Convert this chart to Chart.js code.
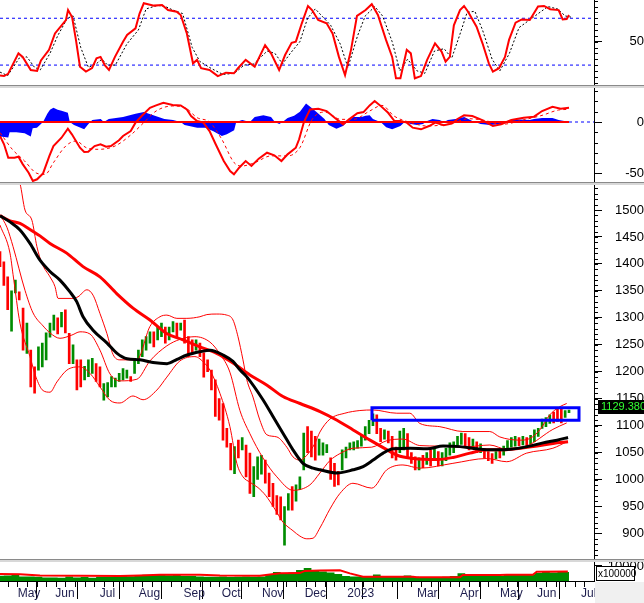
<!DOCTYPE html>
<html>
<head>
<meta charset="utf-8">
<script src="https://cdn.jsdelivr.net/npm/chart.js@4.4.0/dist/chart.umd.min.js"></script>
<style>
  html, body { margin: 0; padding: 0; background: #fff; }
  canvas { display: block; }
</style>
</head>
<body>
<canvas id="chart" width="644" height="603"></canvas>
<script>
const FONT = '"Liberation Sans", Arial, sans-serif';
const X_MAX = 309; // trading days visible on the time axis

// time axis: trading-day index of each month start
const monthDays = [9.2, 28.8, 51.9, 72.2, 95.5, 115.4, 136.3, 158.5, 180.7, 196.3, 216.9, 239.3, 260.1, 279.4, 302.3];
const monthLabels = ["May", "Jun", "Jul", "Aug", "Sep", "Oct", "Nov", "Dec", "2023", "", "Mar", "Apr", "May", "Jun", "Jul"];

// candles, one every 2 trading days (open / close of the visible stick)
const candleOpen = [1423,1404,1376,1275,1346,1348,1318,1234,1240,1209,
  1203,1209,1222,1264,1277,1300,1283,1315,1271,1215,
  1222,1222,1185,1191,1197,1215,1209,1147,1153,1172,
  1172,1182,1185,1188,1191,1197,1215,1228,1240,1253,
  1274,1259,1265,1283,1259,1274,1290,1277,1296,1265,
  1259,1240,1253,1235,1222,1203,1185,1150,1141,1095,
  1067,1011,1073,1055,1064,1049,968,1000,1010,1036,
  1012,993,970,968,878,943,987,960,981,1018,
  1098,1090,1080,1045,1045,1050,1040,1030,1015,1018,
  1040,1055,1055,1058,1062,1073,1085,1100,1120,1095,
  1075,1090,1080,1060,1050,1055,1085,1050,1042,1018,
  1045,1028,1055,1035,1052,1025,1035,1045,1050,1060,
  1065,1085,1078,1058,1070,1050,1058,1052,1048,1038,
  1058,1045,1055,1060,1062,1078,1064,1078,1066,1070,
  1080,1095,1098,1104,1125,1130,1130,1115,1124];
const candleClose = [1395,1360,1315,1350,1370,1333,1240,1290,1172,1160,
  1246,1253,1272,1290,1305,1270,1310,1272,1215,1250,
  1166,1172,1210,1222,1225,1182,1172,1178,1180,1191,
  1188,1197,1206,1203,1182,1222,1240,1259,1265,1274,
  1246,1283,1290,1253,1283,1293,1265,1290,1253,1228,
  1234,1259,1228,1190,1200,1166,1117,1110,1073,1060,
  1018,1061,1040,1078,1005,974,1024,1042,1045,993,
  968,950,935,925,950,974,943,990,1005,1086,
  1050,1042,1036,1075,1068,1065,1000,987,990,1055,
  1060,1068,1070,1072,1080,1098,1110,1122,1085,1070,
  1092,1068,1040,1036,1090,1095,1040,1030,1018,1040,
  1022,1050,1025,1060,1025,1050,1058,1068,1070,1080,
  1086,1060,1055,1075,1050,1066,1040,1035,1030,1052,
  1040,1062,1072,1078,1080,1063,1080,1062,1082,1092,
  1095,1112,1115,1120,1105,1108,1105,1128,1129];
const lastClose = 1129.38;

// moving averages [day, value]
const maLong = [[0,1489.5],[5.2,1480],[10.4,1475],[15.6,1464],[20.8,1452],[26,1438],[34.7,1420],[43.2,1395],[52,1376],[60.7,1345],[69.2,1318],[78,1296],[86.7,1271],[95.2,1259],[104,1246],[112.7,1234],[121.2,1216],[130,1194],[138.9,1175],[147.2,1154],[156.1,1141],[166.5,1126],[175.3,1110],[183.7,1092],[192.5,1073],[201.4,1055],[206.6,1045],[214.9,1039],[227.4,1037],[235.7,1041],[244.5,1049],[253.4,1055],[261.7,1055],[270.6,1058],[279.4,1062],[287.7,1067],[295.5,1070]];
const maMid = [[0,1489.5],[5.2,1478],[10.4,1463],[15.6,1438],[20.8,1407],[26,1386],[31.2,1370],[36.4,1348],[39.9,1330],[43.2,1302],[48.4,1277],[55.7,1253],[60.9,1234],[66.1,1224],[72.8,1222],[79.6,1217],[86.9,1215],[92.1,1223],[97.3,1231],[104,1237],[109.3,1240],[116,1231],[121.2,1219],[124.9,1203],[128.5,1190],[136.8,1148],[142,1117],[147.2,1086],[152.4,1055],[157.6,1030],[162.9,1021],[166.5,1018],[175.3,1012],[183.7,1018],[188.9,1024],[194.1,1036],[199.3,1049],[204.5,1057],[213.3,1058],[222.2,1057],[230.5,1062],[239.3,1061],[248.2,1057],[256.5,1055],[265.4,1056],[274.2,1061],[282.5,1068],[289.8,1073],[295.5,1078]];

// bollinger bands [day, value]
const bbUpper = [[0,1565],[5.2,1580],[10.4,1549],[13,1500],[16.6,1481],[19.2,1432],[21.8,1401],[26,1376],[28.6,1358],[30.2,1336],[37.4,1336],[40.6,1339],[45.2,1352],[48.4,1342],[52,1308],[55.6,1271],[58.8,1232],[62.4,1222],[71.2,1222],[78,1284],[83.2,1302],[86.8,1305],[92,1299],[97.2,1299],[104,1302],[107.6,1306],[112.8,1307],[118,1305],[121.2,1296],[123.8,1265],[126.4,1222],[128.4,1185],[131.6,1153],[135.2,1110],[138.8,1083],[144,1079],[149.2,1060],[152.4,1042],[156,1036],[159.6,1045],[163.8,1067],[166.4,1088],[171.6,1112],[179.4,1123],[187.2,1128],[194,1129],[206.4,1123],[213.2,1123],[218.4,1104],[228.8,1098],[240.8,1089],[254.8,1089],[260,1079],[270.4,1073],[275.6,1076],[280.8,1092],[286,1120],[291.2,1135],[294.8,1141]];
const bbMiddle = [[0,1491],[3.6,1468],[6.8,1432],[13,1351],[17.2,1309],[22.4,1285],[26,1272],[31.2,1262],[37.4,1268],[41.6,1274],[46.8,1270],[52,1240],[57.2,1196],[62.4,1183],[71.2,1186],[78,1220],[86.8,1248],[93.6,1260],[101.4,1265],[109.2,1255],[114.4,1233],[119.6,1199],[124.8,1128],[130,1085],[136.8,1040],[144,1005],[152.4,980],[161.2,990],[166.4,1012],[171.6,1035],[176.8,1048],[183.6,1058],[193.4,1060],[201.2,1072],[209.6,1075],[218.4,1063],[228.8,1062],[240.8,1060],[254.8,1064],[263.6,1056],[274,1062],[287.6,1093],[294.8,1105]];
const bbLower = [[0,1472],[5.2,1420],[6.8,1380],[10.4,1290],[15.6,1228],[18.7,1190],[22.4,1165],[26,1162],[29.6,1181],[34.8,1203],[41.6,1209],[46.8,1197],[52,1172],[57.2,1147],[62.4,1142],[69.2,1155],[74.4,1148],[81.6,1166],[86.8,1190],[93.6,1220],[101.4,1228],[106.6,1215],[109.2,1203],[114.4,1160],[119.6,1098],[123.2,1030],[126.4,1005],[130,995],[134.2,985],[138.3,970],[143,945],[147.2,921],[152.4,905],[156,895],[159.6,890],[162.8,891],[166.4,910],[171.6,945],[176.8,974],[183.6,993],[193.4,984],[201.2,1018],[209.6,1027],[218.4,1021],[235.6,1030],[253.2,1039],[263.6,1033],[274,1049],[287.6,1058],[294.8,1070]];

// highlighted range
const boxDays = [193.5, 301.2];
const boxPrices = [1110, 1133];

// RSI panel [day, value]
const rsiLine = [[0,21],[2.1,20.6],[4.2,22.5],[9.6,40],[11.8,37],[16,25.8],[19.3,25],[21.3,34],[25.5,43],[28.6,57],[34.3,68.5],[35.4,77],[37.5,71],[39.5,51.5],[41.6,28.6],[44.7,24.4],[47.9,27.5],[50.2,35.8],[52.3,37],[54.5,30],[56.7,25.8],[59.8,37],[64,50],[66.1,55.7],[70.5,61.4],[72.6,74],[74.8,82.8],[80.1,80.8],[84.3,81.4],[87.4,77],[91.9,75.6],[94,72.8],[97.2,57],[100.4,31.5],[102.5,34.4],[104.6,27.3],[109,25.8],[113.3,20.6],[117.5,23.5],[121.7,23],[123.8,27.3],[127.8,34.4],[132.5,28.6],[137.9,47],[141,40],[145.2,25.8],[148.3,38.6],[151.7,49],[153.9,50],[157,65.7],[160.2,80.5],[162.3,77],[165.5,68.5],[169.9,65.7],[173,57],[176.3,37],[179.5,21.5],[182.6,43],[185.7,72],[190.2,77],[193.4,82],[196.6,72.8],[200.8,51.5],[204,37],[206,18.7],[208.3,18.7],[211.6,43],[213.7,40],[215.8,18.7],[219,20.6],[222.2,34.4],[226.3,48.6],[229.7,41.5],[231.8,33],[234,37],[236.1,64],[239.3,77],[241.4,80.5],[243.5,75.6],[247.9,62.8],[251,48.6],[254.3,31.5],[256.4,24.4],[259.6,27.3],[262.7,37],[264.8,51.5],[268.2,66.2],[271.4,69],[275.6,68.5],[279.9,80],[283,80.5],[286.2,77.7],[290.6,77],[292.7,69],[294.8,69.4],[296,72.8]];
const rsiSignal = [[0,24],[4,21],[10,36],[14,37],[18,28],[21,26],[26,40],[30,55],[35,70],[38,72],[42,45],[46,28],[50,31],[53,35],[56,30],[60,30],[66,48],[72,60],[76,78],[82,81],[86,80],[90,77],[95,74],[100,45],[104,33],[110,27],[116,22],[122,23],[127,30],[132,31],[139,42],[143,40],[147,31],[151,40],[156,50],[160,70],[164,78],[168,71],[172,64],[177,48],[181,28],[186,55],[190,72],[195,80],[199,72],[204,50],[208,25],[212,35],[217,25],[221,23],[226,42],[231,44],[235,36],[239,55],[243,75],[247,76],[251,60],[256,35],[260,25],[265,40],[270,62],[275,68],[280,74],[285,80],[290,78],[294,72],[297,71]];
const rsiLevels = [70, 30];

// MACD panel [day, value]
const macdLine = [[0,-13.6],[2.1,-21.7],[4.3,-34.8],[7.5,-34.8],[9.6,-33.8],[11.8,-41],[14.9,-49.4],[17.1,-57.5],[19.3,-55.8],[22.4,-50],[25.7,-33],[27.8,-23.4],[32,-15.3],[35.3,-6.5],[37.4,-12],[41.6,-25],[43.8,-29.2],[45.9,-29],[49.2,-23.4],[52.3,-21.7],[55.2,-24],[57.7,-23.4],[61.9,-17.8],[64,-13.6],[68,-8.8],[70.5,-0.6],[73.7,5.8],[78,13.9],[81.2,16.2],[85,18.8],[89.8,16.6],[94,16.2],[97.2,12.3],[99.4,5.8],[102.5,1],[105.8,-0.6],[109,-8.8],[112.2,-21.7],[116.4,-38],[119.7,-47.7],[121.7,-51],[124.4,-44.5],[127.8,-38],[130.8,-42.8],[134.6,-35.7],[138.9,-29.9],[142.7,-32.4],[146.4,-38],[149.6,-31.5],[153.9,-25],[155.6,-16.8],[158.1,0],[161.3,12.3],[165.6,13],[169.9,10.7],[174.1,4.2],[178.5,-2.3],[181.6,2.6],[185.9,8.5],[189.1,9.7],[192.3,16.2],[194.9,20.4],[197.7,16.2],[201.9,9],[205.2,1],[208.3,1],[211.6,-0.6],[214.7,-5.5],[219,-7.1],[223.2,-3.9],[226.5,-0.6],[230.8,-3.2],[235,-1.6],[238.2,3.2],[241.4,6.5],[245.7,5.8],[250,2.6],[253.2,-0.6],[256.4,-3.9],[260.7,-2.2],[266,1.9],[272.4,4.2],[277.8,5.2],[282,10.7],[287.4,14.9],[291.7,13],[296,13.9]];
const macdSignal = [[0,-10.3],[6.4,-26.6],[12.8,-38],[19.2,-50],[23.5,-51],[27.8,-39.6],[34.2,-23.4],[39.5,-18.5],[44.9,-25],[51.3,-26.6],[59.8,-23.4],[68.4,-12],[74.8,-0.6],[81.2,10.7],[89.7,15.6],[96.2,14],[102.6,4.2],[109,0],[115.4,-16.9],[121.8,-39.6],[126,-42.8],[132.5,-39.6],[141,-33],[149.6,-33],[156,-25],[162.4,2.6],[168.8,9.7],[177.4,2.6],[183.8,2.6],[192.3,10.7],[198.7,16.2],[205,5.8],[213.7,-0.6],[222.2,-3.9],[235,-1.3],[243.6,3.2],[252,1.6],[260.7,-2.3],[273.5,2.6],[282,6.5],[290.6,11.7],[296,12.3]];
const macdHist = [[0,-14],[4.3,-15],[5,-10],[8.5,-10],[12.8,-11],[16,-14],[17,-6],[19.2,-5.5],[22.4,0],[24.6,8],[26,12],[27.8,14],[30,12],[32,11],[35.3,9],[36.3,0],[38.5,-3],[43.8,-7],[46,-2],[48,2],[52.4,3],[54,0],[56.6,3],[64,5],[70.5,8],[74.8,9.7],[79,7],[85.5,3],[90,2],[94,0],[96,-3],[102.6,-5.5],[106.8,-5.5],[111,-9],[115.4,-13.6],[118,-12],[121.8,-8],[122.9,0],[126,2],[128,1],[130,0],[132.5,5],[137,6.5],[141,5],[143,0],[145.3,-2],[147,0],[149.6,4],[153,6],[156,10],[159.2,18],[162,14],[164.5,10],[168.8,3],[171,-3],[175,-6.5],[178.4,-4],[180.6,0],[183.8,5],[188,5],[190.2,6],[192.3,6.5],[194,3],[196.6,1],[198,0],[200.9,-5],[204,-7],[208.3,-4],[210.5,0],[213.7,-2],[217,-3],[220,-2],[222.2,1],[225,3],[228.6,2],[231,0],[233,2],[237,3],[241.5,5],[245.7,1],[250,-2],[255,-3],[260.7,-2],[263,0],[265,2],[270,2.5],[275.6,2],[277.8,3],[282,4],[287.4,4],[290.6,2],[294.9,0.5],[296,0]];

// volume, one value every 4 trading days (x100000)
const volume = [3500,3700,4000,3000,3000,2900,2300,2300,2200,3000,
  2300,2700,2200,2900,2900,3000,3300,3200,3700,4200,
  4200,4000,3800,4300,3300,3300,3000,2900,2900,3000,
  2700,2900,3000,2900,3000,4200,6000,5300,5700,7300,
  8700,7300,6300,5700,4700,3300,3000,3000,3300,4300,
  2900,2900,2900,3700,2900,2700,2700,2700,2800,3300,
  5100,4700,3300,3300,3500,3300,4000,4200,4200,4300,
  5300,6700,5700,6300,6000];
const volumeMa = [[0,4700],[10.4,4500],[20.8,3700],[41.6,3500],[62.4,3300],[72.8,3700],[83.2,4200],[104,4200],[114.4,3700],[135.2,3500],[145.6,5100],[156,5300],[158.6,6700],[166.4,7000],[176.8,7100],[182,5100],[188.8,2900],[214.8,2900],[216.8,2500],[239.2,2500],[240.8,4000],[260,4000],[263.6,4200],[277.2,4200],[279.2,6200],[295.4,6300]];

const RED = "#ff0000", GREEN = "#008c00", BLUE = "#0000ff";

function pts(arr) {
  return arr.map(p => ({ x: p[0], y: p[1] }));
}

function line(data, axis, color, width, extra) {
  return Object.assign({
    type: "line", data: data, yAxisID: axis, borderColor: color, borderWidth: width,
    pointRadius: 0, fill: false, tension: 0, order: 2
  }, extra || {});
}

// right-aligned labels: padding so that the label ends 3px from the canvas edge
const meas = document.createElement("canvas").getContext("2d");
meas.font = "13px " + FONT;
function labelPad(labels) {
  const w = Math.max(...labels.map(t => meas.measureText(t).width));
  return 50 - 3 - 8 - w;
}

function yAxis(min, max, weight, tickValues) {
  const labels = tickValues.map(String);
  return {
    type: "linear", position: "right", stack: "panels", stackWeight: weight,
    min: min, max: max,
    grid: { drawOnChartArea: false, drawTicks: true, tickLength: 8, tickColor: "#000" },
    border: { color: "#000", width: 1 },
    ticks: {
      color: "#000", font: { family: FONT, size: 13 }, crossAlign: "far",
      padding: labelPad(labels), autoSkip: false,
      callback: v => String(v)
    },
    afterBuildTicks: s => { s.ticks = tickValues.map(v => ({ value: v })); },
    afterFit: s => { s.width = 50; s.paddingTop = 0; s.paddingBottom = 0; }
  };
}

const priceTicks = [];
for (let v = 900; v <= 1500; v += 50) priceTicks.push(v);

const smooth = { cubicInterpolationMode: "monotone" };

const datasets = [
  // highlight box
  line(pts([[boxDays[0], boxPrices[0]], [boxDays[1], boxPrices[0]], [boxDays[1], boxPrices[1]], [boxDays[0], boxPrices[1]], [boxDays[0], boxPrices[0]]]),
    "yPrice", BLUE, 3, { order: 0 }),
  // moving averages
  line(pts(maMid), "yPrice", "#000", 3, Object.assign({ order: 1 }, smooth)),
  line(pts(maLong), "yPrice", RED, 3, Object.assign({ order: 1 }, smooth)),
  // bollinger bands
  line(pts(bbUpper), "yPrice", RED, 1, Object.assign({ order: 3 }, smooth)),
  line(pts(bbMiddle), "yPrice", RED, 1, Object.assign({ order: 3 }, smooth)),
  line(pts(bbLower), "yPrice", RED, 1, Object.assign({ order: 3 }, smooth)),
  // candles
  {
    type: "bar", yAxisID: "yPrice", order: 5, grouped: false,
    data: candleOpen.map((o, i) => ({ x: i * 2, y: [o, candleClose[i]] })),
    backgroundColor: candleOpen.map((o, i) => candleClose[i] >= o ? GREEN : RED),
    borderWidth: 0, barThickness: 2, minBarLength: 1
  },
  // RSI
  line(pts([[0, rsiLevels[0]], [X_MAX, rsiLevels[0]]]), "yRsi", BLUE, 1, { borderDash: [3, 3], order: 4 }),
  line(pts([[0, rsiLevels[1]], [X_MAX, rsiLevels[1]]]), "yRsi", BLUE, 1, { borderDash: [3, 3], order: 4 }),
  line(pts(rsiSignal), "yRsi", "#000", 1, { borderDash: [2, 2], order: 3 }),
  line(pts(rsiLine), "yRsi", RED, 2, { order: 2 }),
  // MACD
  line(pts(macdHist), "yMacd", BLUE, 0, { fill: "origin", backgroundColor: BLUE, order: 6 }),
  line(pts([[0, 0], [296, 0]]), "yMacd", RED, 2, { order: 3 }),
  line(pts([[296, 0], [X_MAX, 0]]), "yMacd", BLUE, 1, { borderDash: [3, 3], order: 3 }),
  line(pts(macdSignal), "yMacd", RED, 1, Object.assign({ borderDash: [3, 3], order: 3 }, smooth)),
  line(pts(macdLine), "yMacd", RED, 2, { order: 2 }),
  // volume
  line(volume.map((v, i) => ({ x: i * 4, y: v })), "yVol", GREEN, 0, { fill: "origin", backgroundColor: GREEN, stepped: "middle", order: 6 }),
  line(pts(volumeMa), "yVol", RED, 2, { order: 2 })
];

const decor = {
  id: "decor",
  beforeDraw(chart) {
    const c = chart.ctx;
    c.save();
    c.fillStyle = "#fff";
    c.fillRect(0, 0, chart.width, chart.height);
    c.restore();
  },
  afterDraw(chart) {
    const c = chart.ctx, sc = chart.scales, W = chart.width, H = chart.height;
    c.save();
    // minor tick marks
    c.strokeStyle = "#000";
    c.lineWidth = 1;
    c.beginPath();
    [["yRsi", 5], ["yMacd", 10], ["yPrice", 10]].forEach(([id, step]) => {
      const s = sc[id];
      for (let v = Math.ceil(s.min / step) * step; v <= s.max; v += step) {
        const y = Math.round(s.getPixelForValue(v)) + 0.5;
        c.moveTo(s.left, y);
        c.lineTo(s.left + 4, y);
      }
    });
    const xs = sc.x;
    for (let d = 4; d < xs.max; d += 5) {
      const x = Math.round(xs.getPixelForValue(d)) + 0.5;
      c.moveTo(x, xs.top);
      c.lineTo(x, xs.top + 6);
    }
    c.stroke();

    // grey corner under the value axes
    c.fillStyle = "#f0f0f0";
    c.fillRect(xs.right + 1, xs.top + 1, W - xs.right, H - xs.top);

    // panel separators
    [sc.yRsi.bottom, sc.yMacd.bottom, sc.yPrice.bottom].forEach(y => {
      c.fillStyle = "#d8d8d8";
      c.fillRect(0, Math.round(y) - 2, W, 3);
      c.fillStyle = "#8a8a8a";
      c.fillRect(0, Math.round(y) - 2, W, 1);
    });

    // last price tag
    const ps = sc.yPrice;
    const ty = ps.getPixelForValue(lastClose);
    c.fillStyle = "#000";
    c.fillRect(ps.left + 4, Math.round(ty) - 10, W - ps.left - 4, 14);
    c.fillStyle = "#33ff33";
    c.font = "11px " + FONT;
    c.textAlign = "left";
    c.textBaseline = "middle";
    c.fillText(lastClose.toFixed(3), ps.left + 7, Math.round(ty) - 3);

    // volume multiplier box
    const vs = sc.yVol;
    c.fillStyle = "#fff";
    c.fillRect(vs.left + 2.5, vs.top + 5.5, 38, 14);
    c.strokeStyle = "#000";
    c.strokeRect(vs.left + 2.5, vs.top + 5.5, 38, 14);
    c.fillStyle = "#000";
    c.font = "10px " + FONT;
    c.fillText("x100000", vs.left + 4, vs.top + 13);
    c.restore();
  }
};

new Chart(document.getElementById("chart"), {
  type: "line",
  data: { datasets: datasets },
  options: {
    responsive: false,
    devicePixelRatio: 1,
    animation: false,
    events: [],
    layout: { padding: 0 },
    plugins: { legend: { display: false }, tooltip: { enabled: false } },
    scales: {
      x: {
        type: "linear", min: 0, max: X_MAX, offset: false,
        grid: { drawOnChartArea: false, drawTicks: true, tickLength: 18, tickColor: "#000" },
        border: { color: "#000", width: 1 },
        ticks: {
          align: "start", maxRotation: 0, autoSkip: false, padding: -13,
          color: "#1c1c4c", font: { family: FONT, size: 12 },
          callback: (v, i) => monthLabels[i]
        },
        afterBuildTicks: s => { s.ticks = monthDays.map(v => ({ value: v })); },
        afterFit: s => { s.height = 22; s.paddingLeft = 0; s.paddingRight = 0; }
      },
      yRsi: yAxis(11.7, 85.6, 86.5, [50]),
      yMacd: yAxis(-59.9, 34.6, 97, [0, -50]),
      yPrice: yAxis(848.8, 1549.2, 377.5, priceTicks),
      yVol: yAxis(0, 13333, 20, [10000])
    }
  },
  plugins: [decor]
});
</script>
</body>
</html>
